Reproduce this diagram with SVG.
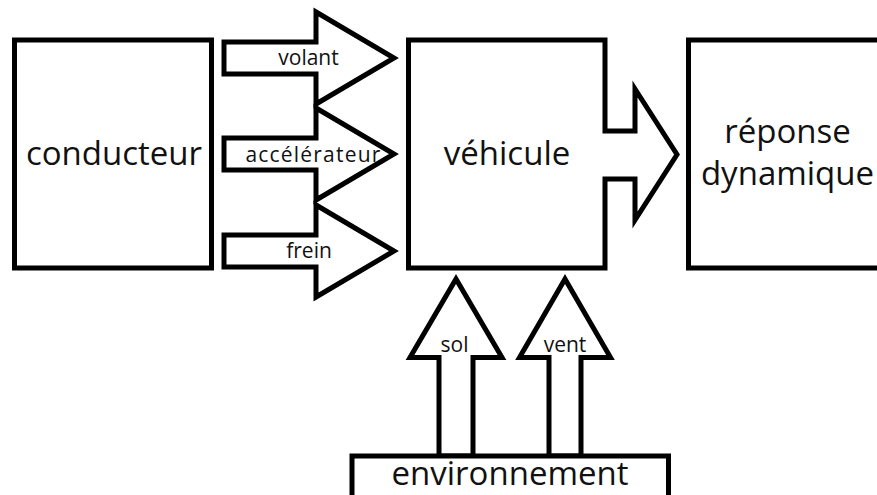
<svg xmlns="http://www.w3.org/2000/svg" width="877" height="495" viewBox="0 0 877 495">
<style>
.s{fill:#fff;stroke:#000;stroke-width:5;stroke-miterlimit:10}
.big{font-family:"Open Sans",sans-serif;font-size:33px;fill:#111;text-anchor:middle}
.lbl{font-family:"Open Sans",sans-serif;font-size:21px;fill:#111;text-anchor:middle}
</style>
<rect width="877" height="495" fill="#fff"/>
<g id="connectors">
<path id="a-volant" class="s" d="M224,42 H316 V12 L394,58 L316,104 V74 H224 Z"/>
<path id="a-accel" class="s" d="M224,138 H316 V108 L394,154 L316,200 V170 H224 Z"/>
<path id="a-frein" class="s" d="M224,235 H316 V205 L394,251 L316,297 V267 H224 Z"/>
<path id="a-sol" class="s" d="M439,456 V357.5 H410 L456,279 L502,357.5 H473 V456 Z"/>
<path id="a-vent" class="s" d="M549,456 V357.5 H519.5 L565,279 L610.5,357.5 H581 V456 Z"/>
<text class="lbl" x="308.5" y="65">volant</text>
<text class="lbl" x="313.5" y="161.5" letter-spacing="1.2">accélérateur</text>
<text class="lbl" x="309" y="258">frein</text>
<text class="lbl" x="454.5" y="352">sol</text>
<text class="lbl" x="565" y="352">vent</text>
</g>
<g id="conducteur">
<rect class="s" x="14.5" y="40" width="197" height="228"/>
<text class="big" x="114" y="165">conducteur</text>
</g>
<g id="vehicule">
<path class="s" d="M408.5,40 H605 V131 H635 V89 L677,154.5 L635,220 V179 H605 V268 H408.5 Z"/>
<text class="big" x="507" y="165">véhicule</text>
</g>
<g id="reponse">
<rect class="s" x="688.5" y="40" width="210" height="228"/>
<text class="big" x="787.5" y="143">réponse</text>
<text class="big" x="787.5" y="185">dynamique</text>
</g>
<g id="environnement">
<rect class="s" x="352" y="456" width="316.5" height="60"/>
<text class="big" x="510" y="485">environnement</text>
</g>
</svg>
